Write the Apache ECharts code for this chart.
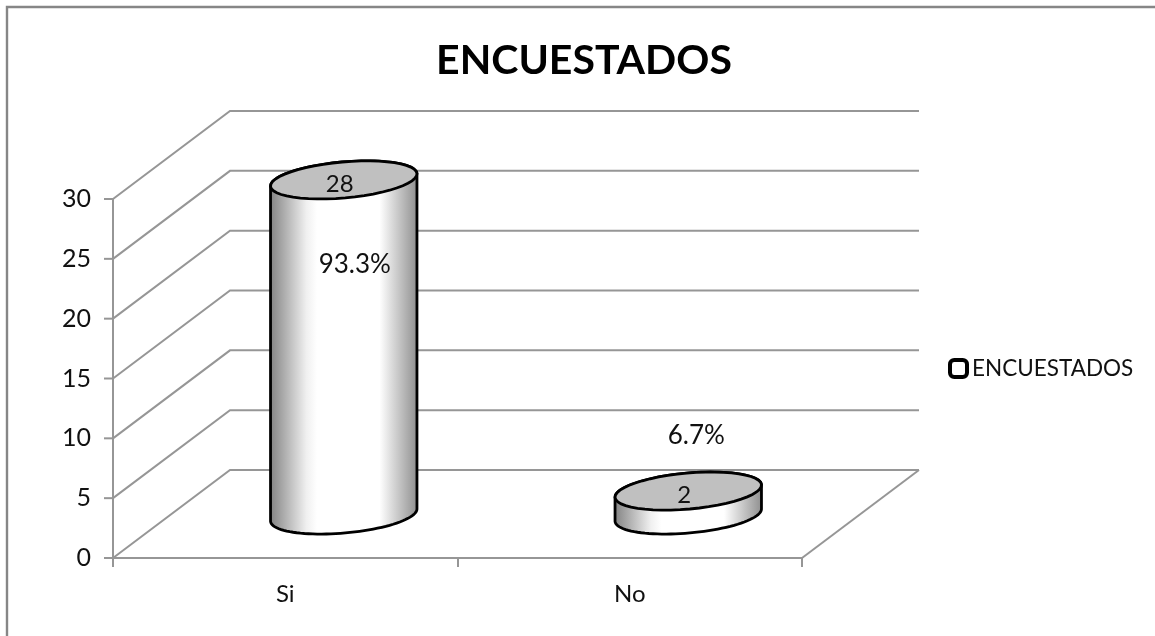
<!DOCTYPE html>
<html>
<head>
<meta charset="utf-8">
<style>
  html, body { margin: 0; padding: 0; background: #fff; }
  #chart { width: 1155px; height: 636px; }
</style>
<script src="https://cdn.jsdelivr.net/npm/echarts@6/dist/echarts.min.js"></script>
</head>
<body>
<div id="chart"></div>
<script>
var categories = ['Si', 'No']
var values = [28, 2]
var percents = ['93.3%', '6.7%']
var yTicks = [0, 5, 10, 15, 20, 25, 30]

// fake 3d: how far the back wall sits from the axes
var DEPTH_X = 117
var DEPTH_Y = 88
var BAR_LIFT = 43
var lineGray = '#969696'
var font = 'Lato, "Open Sans", sans-serif'

// the percent labels were dragged by hand in the original
var pctOffset = [[11, 85], [8, -55]]

// ellipse outline, tilted a bit like the excel cylinder. from/to in radians
function arc(cx, cy, from, to) {
  var a = 73.5, b = 18, tilt = -0.088
  var pts = []
  for (var i = 0; i <= 48; i++) {
    var t = from + (to - from) * i / 48
    var x = a * Math.cos(t), y = b * Math.sin(t)
    pts.push([
      cx + x * Math.cos(tilt) - y * Math.sin(tilt),
      cy + x * Math.sin(tilt) + y * Math.cos(tilt)
    ])
  }
  return pts
}

// wall line for each tick, plus the y axis tick itself
function renderWall(params, api) {
  var c = params.coordSys
  var y = api.coord([0, api.value(1)])[1]
  var style = { stroke: lineGray, lineWidth: 2, fill: null }
  var children = [
    {
      type: 'polyline',
      shape: { points: [[c.x, y], [c.x + DEPTH_X, y - DEPTH_Y], [c.x + c.width + DEPTH_X, y - DEPTH_Y]] },
      style: style
    },
    {
      type: 'line',
      shape: { x1: c.x - 9, y1: y, x2: c.x, y2: y },
      style: style
    }
  ]
  if (api.value(1) === 0) {
    children.push({
      type: 'line',
      shape: { x1: c.x + c.width, y1: y, x2: c.x + c.width + DEPTH_X, y2: y - DEPTH_Y },
      style: style
    })
    children.push({
      type: 'line',
      shape: { x1: c.x, y1: y, x2: c.x, y2: c.y },
      style: style
    })
  }
  return { type: 'group', children: children }
}

function renderCylinder(params, api) {
  var i = params.dataIndex
  var base = api.coord([i, 0])
  var top = api.coord([i, api.value(1)])
  var cx = base[0] + DEPTH_X / 2
  var topY = top[1] - BAR_LIFT
  var body = arc(cx, base[1] - BAR_LIFT, 0, Math.PI).concat(arc(cx, topY, Math.PI, 2 * Math.PI))
  var lid = arc(cx, topY, 0, 2 * Math.PI)
  var textStyle = { fill: '#111', fontFamily: font, align: 'center', verticalAlign: 'middle' }
  return {
    type: 'group',
    children: [
      {
        type: 'polygon',
        shape: { points: body },
        style: {
          stroke: '#000',
          lineWidth: 2.8,
          fill: new echarts.graphic.LinearGradient(0, 0, 1, 0, [
            { offset: 0, color: '#808080' },
            { offset: 0.25, color: '#f0f0f0' },
            { offset: 0.32, color: '#ffffff' },
            { offset: 0.74, color: '#ffffff' },
            { offset: 1, color: '#8c8c8c' }
          ])
        }
      },
      {
        type: 'polygon',
        shape: { points: lid },
        style: { stroke: '#000', lineWidth: 2.8, fill: '#c0c0c0' }
      },
      {
        type: 'text',
        style: Object.assign({ x: cx - 4, y: topY + 4, text: String(api.value(1)), fontSize: 24 }, textStyle)
      },
      {
        type: 'text',
        style: Object.assign({ x: cx + pctOffset[i][0], y: topY + pctOffset[i][1], text: percents[i], fontSize: 26 }, textStyle)
      }
    ]
  }
}

var myChart = echarts.init(document.getElementById('chart'), null, { renderer: 'canvas' })
var option = {
  animation: false,
  backgroundColor: '#fff',
  title: {
    text: 'ENCUESTADOS',
    left: 579,
    top: 35,
    textAlign: 'center',
    textStyle: { fontFamily: font, fontWeight: 'bold', fontSize: 41, color: '#000' }
  },
  legend: {
    left: 943,
    top: 352,
    itemWidth: 17,
    itemHeight: 17,
    itemGap: 0,
    selectedMode: false,
    textStyle: { fontFamily: font, fontSize: 22.5, color: '#111' },
    data: [{
      name: 'ENCUESTADOS',
      icon: 'roundRect',
      itemStyle: { color: '#fff', borderColor: '#000', borderWidth: 4 }
    }]
  },
  grid: { left: 113, top: 199, width: 689, height: 359 },
  xAxis: {
    type: 'category',
    data: categories,
    axisLine: { show: true, lineStyle: { color: lineGray, width: 2 } },
    axisTick: { show: true, length: 9, lineStyle: { color: lineGray, width: 2 } },
    axisLabel: { margin: 24, fontFamily: font, fontSize: 24, color: '#111' }
  },
  yAxis: {
    type: 'value',
    min: 0,
    max: 30,
    interval: 5,
    splitLine: { show: false },
    axisLine: { show: false },
    axisTick: { show: false },
    axisLabel: { margin: 22, fontFamily: font, fontSize: 25, color: '#111' }
  },
  graphic: [{
    type: 'polyline',
    shape: { points: [[7, 636], [7, 7], [1155, 7]] },
    style: { stroke: '#868686', lineWidth: 2.4, fill: null }
  }],
  series: [
    {
      name: 'pared',
      type: 'custom',
      z: 1,
      silent: true,
      renderItem: renderWall,
      encode: { x: 0, y: 1 },
      data: yTicks.map(function (v) { return [0, v] })
    },
    {
      name: 'ENCUESTADOS',
      type: 'custom',
      z: 3,
      renderItem: renderCylinder,
      encode: { x: 0, y: 1 },
      data: values.map(function (v, i) { return [i, v] })
    }
  ]
}
myChart.setOption(option)
</script>
</body>
</html>
